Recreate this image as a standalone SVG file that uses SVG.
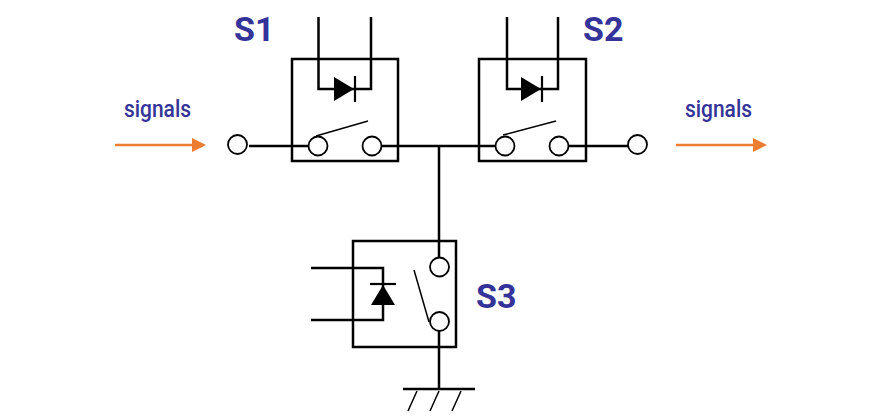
<svg xmlns="http://www.w3.org/2000/svg" width="888" height="417" viewBox="0 0 888 417">
<style>
.w{fill:none;stroke:#000;stroke-width:2.5}
.b{fill:none;stroke:#000;stroke-width:2.5}
.c{fill:#fff;stroke:#000;stroke-width:1.8}
.a{fill:none;stroke:#000;stroke-width:1.5}
.d{fill:none;stroke:#000;stroke-width:2.2}
.t{font-family:Roboto,"Liberation Sans",sans-serif;font-weight:700;font-size:34px;fill:#333399}
.s{font-family:Roboto,"Liberation Sans",sans-serif;font-weight:500;font-size:23px;fill:#333399}
.o{fill:none;stroke:#ed7d31;stroke-width:2.5}
.h{fill:#ed7d31}
</style>
<rect width="888" height="417" fill="#fff"/>
<g id="connectors">
<path class="w" d="M249 146H309M381 146H496M568 146H628"/>
<path class="w" d="M439 146V258M439 331V389M403 389H475"/>
<path class="a" d="M417 391L408 411M439 391L430 411M461 391L452 411"/>
<path class="o" d="M115 145H194M676 145H755"/>
<polygon class="h" points="192,138 206,145 192,152"/>
<polygon class="h" points="753,138 767,145 753,152"/>
</g>
<g id="S1">
<rect class="b" x="292" y="59" width="106" height="102"/>
<path class="w" d="M318.500 17V89H371V17"/>
<polygon points="334,77 354,89 334,101"/>
<path class="d" d="M355 76V102"/>
<path class="a" d="M316 136L368 121"/>
<circle class="c" cx="318" cy="146" r="9.500"/>
<circle class="c" cx="372" cy="146" r="9.500"/>
<text class="t" x="234" y="41">S1</text>
</g>
<g id="S2">
<rect class="b" x="479" y="59" width="107" height="102"/>
<path class="w" d="M507 17V89H558V17"/>
<polygon points="521,77 541,89 521,101"/>
<path class="d" d="M542 76V102"/>
<path class="a" d="M503 135L556 121"/>
<circle class="c" cx="505" cy="146" r="9.500"/>
<circle class="c" cx="559" cy="146" r="9.500"/>
<text class="t" x="583" y="41">S2</text>
</g>
<g id="S3">
<rect class="b" x="353" y="241" width="103" height="106"/>
<path class="w" d="M311 268H383V320H311"/>
<polygon points="383,285 395,305 371,305"/>
<path class="d" d="M370 284H396"/>
<path class="a" d="M414 270L429 322"/>
<circle class="c" cx="439.500" cy="267" r="9.500"/>
<circle class="c" cx="439.500" cy="321.500" r="9.500"/>
<text class="t" x="476" y="308">S3</text>
</g>
<g id="term-in"><circle class="c" cx="237.500" cy="144.500" r="9.500"/></g>
<g id="term-out"><circle class="c" cx="637.500" cy="144.500" r="9.500"/></g>
<g id="signals-in"><text class="s" x="124" y="117" textLength="67" lengthAdjust="spacingAndGlyphs">signals</text></g>
<g id="signals-out"><text class="s" x="685" y="117" textLength="67" lengthAdjust="spacingAndGlyphs">signals</text></g>
</svg>
